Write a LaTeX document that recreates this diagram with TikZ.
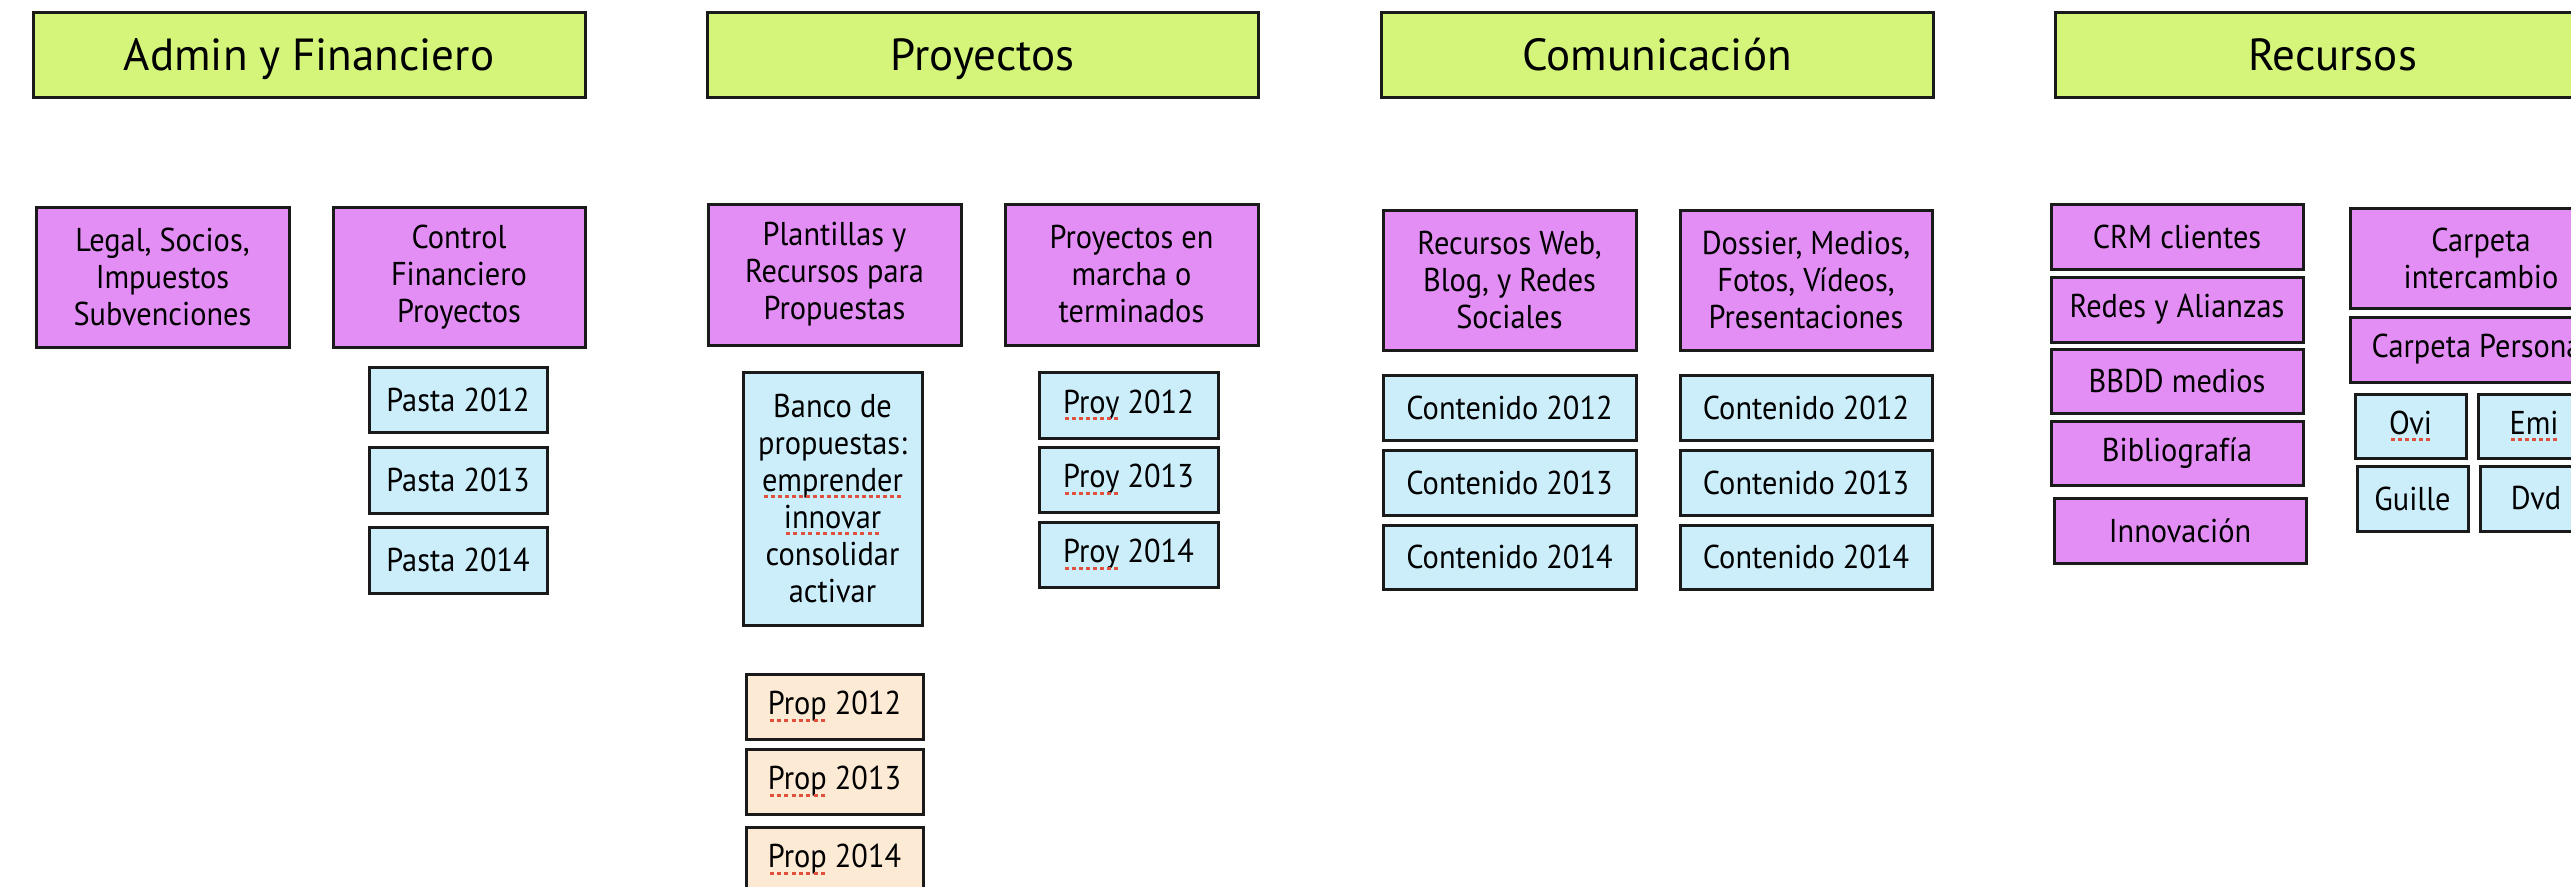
\documentclass[tikz,border=0pt]{standalone}
\usepackage{fontspec}
\setmainfont{PT Sans}
\newfontfamily\bodyfont{PT Sans}[FakeStretch=0.92]
\definecolor{hdrgreen}{HTML}{D4F57A}
\definecolor{pinkc}{HTML}{E38EF5}
\definecolor{bluec}{HTML}{CCEEFA}
\definecolor{peachc}{HTML}{FDEAD4}
\definecolor{linec}{HTML}{1A1A1A}
\definecolor{splred}{HTML}{E0503C}
\newcommand\spl[1]{\setbox0=\hbox{#1}\rlap{\copy0}\raisebox{-7pt}{\textcolor{splred}{\hbox to \wd0{\xleaders\hbox to 7pt{\hss\rule{4pt}{3pt}\hss}\hfill}}}}
\newcommand\bx[7]{%
  \pgfmathsetmacro\bxcx{(#3+#5)/2}%
  \pgfmathsetmacro\bxcy{(#4+#6)/2}%
  \pgfmathsetmacro\bxw{#5-#3}%
  \pgfmathsetmacro\bxh{#6-#4}%
  \node[#1, minimum width=\bxw pt, minimum height=\bxh pt] (#2) at (\bxcx,\bxcy) {#7};}
\tikzset{
  base/.style={draw=linec, line width=3pt, inner sep=0pt, align=center,
    font=\bodyfont\fontsize{33}{37}\selectfont},
  hdr/.style={base, fill=hdrgreen, font=\rmfamily\fontsize{45}{50}\selectfont,
    text height=31.5pt, text depth=0pt},
  pinkbox/.style={base, fill=pinkc},
  bluebox/.style={base, fill=bluec},
  peachbox/.style={base, fill=peachc}
}
\begin{document}
\begin{tikzpicture}[x=1pt,y=-1pt]
\useasboundingbox (0,0) rectangle (2571,886);
\clip (0,0) rectangle (2571,886);
\fill[white] (0,0) rectangle (2571,886);
% headers
\bx{hdr}{hA}{33}{12}{585}{97}{Admin y Financiero}
\bx{hdr}{hP}{707}{12}{1258}{97}{Proyectos}
\bx{hdr}{hC}{1381}{12}{1933}{97}{Comunicación}
\bx{hdr}{hR}{2055}{12}{2610}{97}{Recursos}
% Admin
\bx{pinkbox}{legal}{36}{207}{289}{347}{Legal, Socios,\\Impuestos\\Subvenciones}
\bx{pinkbox}{control}{333}{207}{585}{347}{Control\\Financiero\\Proyectos}
\bx{bluebox}{pa12}{369}{367}{547}{432}{Pasta 2012}
\bx{bluebox}{pa13}{369}{447}{547}{513}{Pasta 2013}
\bx{bluebox}{pa14}{369}{527}{547}{593}{Pasta 2014}
% Proyectos
\bx{pinkbox}{plant}{708}{204}{961}{345}{Plantillas y\\Recursos para\\Propuestas}
\bx{pinkbox}{marcha}{1005}{204}{1258}{345}{Proyectos en\\marcha o\\terminados}
\bx{bluebox}{banco}{743}{372}{922}{625}{Banco de\\propuestas:\\\spl{emprender}\\\spl{innovar}\\consolidar\\activar}
\bx{bluebox}{py12}{1039}{372}{1218}{438}{\spl{Proy} 2012}
\bx{bluebox}{py13}{1039}{447}{1218}{512}{\spl{Proy} 2013}
\bx{bluebox}{py14}{1039}{522}{1218}{587}{\spl{Proy} 2014}
\bx{peachbox}{pr12}{746}{674}{923}{739}{\spl{Prop} 2012}
\bx{peachbox}{pr13}{746}{749}{923}{814}{\spl{Prop} 2013}
\bx{peachbox}{pr14}{746}{827}{923}{892}{\spl{Prop} 2014}
% Comunicacion
\bx{pinkbox}{web}{1383}{210}{1636}{350}{Recursos Web,\\Blog, y Redes\\Sociales}
\bx{pinkbox}{dossier}{1680}{210}{1932}{350}{Dossier, Medios,\\Fotos, Vídeos,\\Presentaciones}
\bx{bluebox}{cl12}{1383}{375}{1636}{440}{Contenido 2012}
\bx{bluebox}{cl13}{1383}{450}{1636}{515}{Contenido 2013}
\bx{bluebox}{cl14}{1383}{525}{1636}{589}{Contenido 2014}
\bx{bluebox}{cr12}{1680}{375}{1932}{440}{Contenido 2012}
\bx{bluebox}{cr13}{1680}{450}{1932}{515}{Contenido 2013}
\bx{bluebox}{cr14}{1680}{525}{1932}{589}{Contenido 2014}
% Recursos
\bx{pinkbox}{crm}{2051}{204}{2303}{269}{CRM clientes}
\bx{pinkbox}{redes}{2051}{277}{2303}{342}{Redes y Alianzas}
\bx{pinkbox}{bbdd}{2051}{349}{2303}{413}{BBDD medios}
\bx{pinkbox}{biblio}{2051}{421}{2303}{485}{Bibliografía}
\bx{pinkbox}{innov}{2054}{498}{2306}{563}{Innovación}
\bx{pinkbox}{inter}{2350}{208}{2612}{308}{Carpeta\\intercambio}
\bx{pinkbox}{perso}{2350}{317}{2612}{382}{Carpeta Personal}
\bx{bluebox}{ovi}{2355}{394}{2466}{458}{\spl{Ovi}}
\bx{bluebox}{emi}{2478}{394}{2590}{458}{\spl{Emi}}
\bx{bluebox}{guille}{2357}{466}{2468}{531}{Guille}
\bx{bluebox}{dvd}{2480}{466}{2592}{531}{Dvd}
\end{tikzpicture}
\end{document}
